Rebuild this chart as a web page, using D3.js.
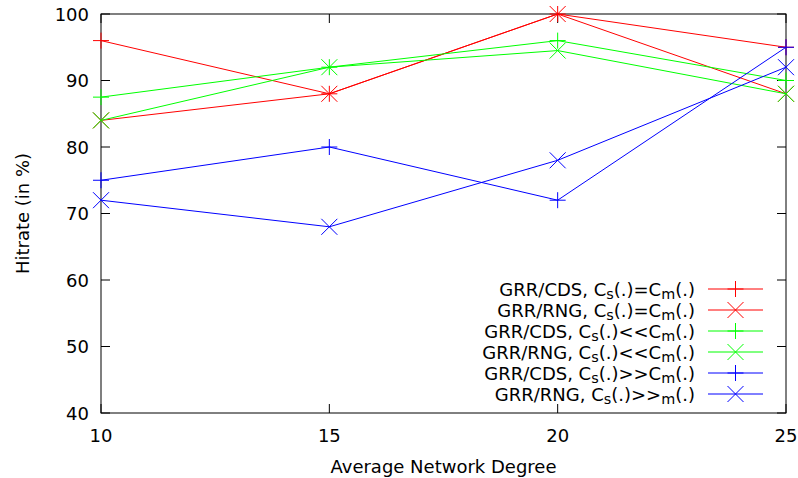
<!DOCTYPE html>
<html><head><meta charset="utf-8">
<script src="https://cdn.jsdelivr.net/npm/d3@7"></script>
<style>body{margin:0;background:#fff}svg{display:block}text{font-family:"DejaVu Sans",sans-serif;fill:#000}</style>
</head><body>
<script>
const degrees = [10, 15, 20, 25];
const xTicks = [10, 15, 20, 25];
const yTicks = [40, 50, 60, 70, 80, 90, 100];
const cdsEqual = [96, 88, 100, 95];
const rngEqual = [84, 88, 100, 88];
const cdsLess = [87.5, 92, 96, 90];
const rngLess = [84, 92, 94.5, 88];
const cdsMore = [75, 80, 72, 95];
const rngMore = [72, 68, 78, 92];
const seriesNames = [
  ["GRR/CDS, C","s","(.)=C","m","(.)"],
  ["GRR/RNG, C","s","(.)=C","m","(.)"],
  ["GRR/CDS, C","s","(.)<<C","m","(.)"],
  ["GRR/RNG, C","s","(.)<<C","m","(.)"],
  ["GRR/CDS, C","s","(.)>>C","m","(.)"],
  ["GRR/RNG, C","s","(.)>>","m","(.)"]
];
const seriesValues = [cdsEqual, rngEqual, cdsLess, rngLess, cdsMore, rngMore];
const seriesColors = ["#ff0000", "#ff0000", "#00ff00", "#00ff00", "#0000ff", "#0000ff"];
const seriesMarkers = ["plus", "cross", "plus", "cross", "plus", "cross"];

const W = 798, H = 478;
const m = {left: 101, right: 12, top: 14, bottom: 65};
const svg = d3.select("body").append("svg").attr("width", W).attr("height", H);
const x = d3.scaleLinear().domain([10, 25]).range([m.left, W - m.right]);
const y = d3.scaleLinear().domain([40, 100]).range([H - m.bottom, m.top]);
const fs = 18, tl = 9;

svg.append("rect").attr("x", x(10)).attr("y", y(100)).attr("width", x(25)-x(10)).attr("height", y(40)-y(100))
  .attr("fill", "none").attr("stroke", "#000").attr("stroke-width", 1);

const g = svg.append("g").attr("stroke", "#000").attr("stroke-width", 1);
yTicks.forEach(t => {
  g.append("line").attr("x1", x(10)).attr("x2", x(10)+tl).attr("y1", y(t)).attr("y2", y(t));
  g.append("line").attr("x1", x(25)).attr("x2", x(25)-tl).attr("y1", y(t)).attr("y2", y(t));
});
xTicks.forEach(t => {
  g.append("line").attr("x1", x(t)).attr("x2", x(t)).attr("y1", y(40)).attr("y2", y(40)-tl);
  g.append("line").attr("x1", x(t)).attr("x2", x(t)).attr("y1", y(100)).attr("y2", y(100)+tl);
});
svg.selectAll(".yl").data(yTicks).join("text").attr("x", x(10)-12).attr("y", d => y(d))
  .attr("text-anchor", "end").attr("dominant-baseline", "central").attr("font-size", fs).text(d => d);
svg.selectAll(".xl").data(xTicks).join("text").attr("x", d => x(d)).attr("y", y(40)+22)
  .attr("text-anchor", "middle").attr("dominant-baseline", "central").attr("font-size", fs).text(d => d);

svg.append("text").attr("transform", `translate(22,${(y(40)+y(100))/2}) rotate(-90)`)
  .attr("text-anchor", "middle").attr("dominant-baseline", "central").attr("font-size", fs).text("Hitrate (in %)");
svg.append("text").attr("x", (x(10)+x(25))/2).attr("y", 466).attr("text-anchor", "middle")
  .attr("dominant-baseline", "central").attr("font-size", fs).text("Average Network Degree");

function marker(sel, type, cx, cy, color) {
  const s = 8;
  const p = type === "plus"
    ? `M${cx-s},${cy}H${cx+s}M${cx},${cy-s}V${cy+s}`
    : `M${cx-s},${cy-s}L${cx+s},${cy+s}M${cx-s},${cy+s}L${cx+s},${cy-s}`;
  sel.append("path").attr("d", p).attr("stroke", color).attr("stroke-width", 1).attr("fill", "none");
}

const line = d3.line().x((d, i) => x(degrees[i])).y(d => y(d));
seriesValues.forEach((vals, k) => {
  const gs = svg.append("g");
  gs.append("path").attr("d", line(vals)).attr("fill", "none").attr("stroke", seriesColors[k]).attr("stroke-width", 1);
  vals.forEach((v, i) => marker(gs, seriesMarkers[k], x(degrees[i]), y(v), seriesColors[k]));
});

const lg = svg.append("g");
seriesNames.forEach((parts, k) => {
  const ly = 289 + k * 21;
  const t = lg.append("text").attr("x", 695).attr("y", ly).attr("text-anchor", "end")
    .attr("dominant-baseline", "central").attr("font-size", fs);
  parts.forEach((p, j) => {
    const ts = t.append("tspan").text(p);
    if (j % 2 === 1) ts.attr("font-size", fs*0.8).attr("dy", 5);
    else if (j > 0) ts.attr("dy", -5);
  });
  lg.append("line").attr("x1", 708).attr("x2", 763).attr("y1", ly).attr("y2", ly)
    .attr("stroke", seriesColors[k]).attr("stroke-width", 1);
  marker(lg, seriesMarkers[k], 735.5, ly, seriesColors[k]);
});
</script>
</body></html>
